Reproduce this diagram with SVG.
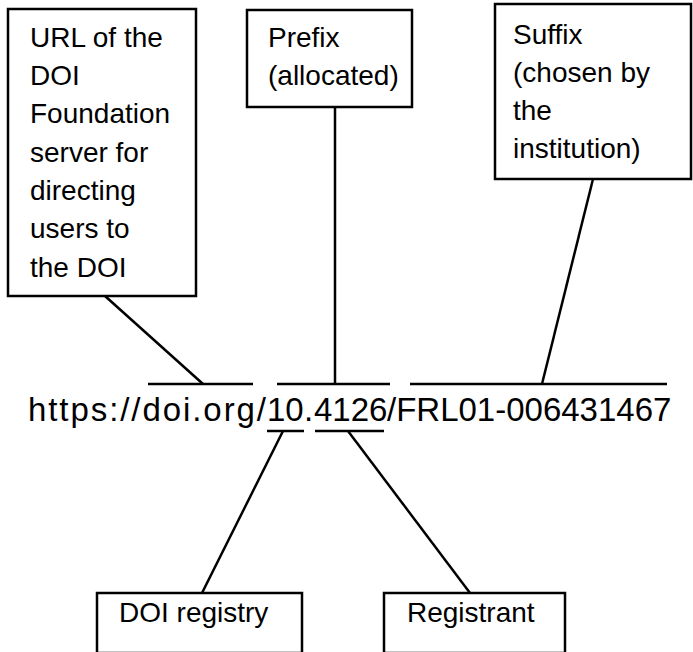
<svg xmlns="http://www.w3.org/2000/svg" width="693" height="652" viewBox="0 0 693 652">
<style>
.box{fill:#fff;stroke:#000;stroke-width:2.5}
.lbl{font-family:"Liberation Sans",Arial,sans-serif;font-size:28px;fill:#000}
.url{font-family:"Liberation Sans",Arial,sans-serif;font-size:33px;fill:#000}
.ln{stroke:#000;stroke-width:2.5;fill:none}
</style>
<rect width="693" height="652" fill="#fff"/>
<g id="connectors">
<line class="ln" x1="105" y1="296" x2="203" y2="384"/>
<line class="ln" x1="335" y1="107" x2="335" y2="384"/>
<line class="ln" x1="593" y1="179" x2="542" y2="384"/>
<line class="ln" x1="148" y1="384" x2="253" y2="384"/>
<line class="ln" x1="277" y1="384" x2="390" y2="384"/>
<line class="ln" x1="410" y1="384" x2="667" y2="384"/>
<line class="ln" x1="267" y1="431" x2="304" y2="431"/>
<line class="ln" x1="315" y1="431" x2="384" y2="431"/>
<line class="ln" x1="283" y1="431" x2="202" y2="593"/>
<line class="ln" x1="348" y1="431" x2="470" y2="593"/>
</g>
<g id="url">
<text class="url" y="421"><tspan x="28" textLength="238" lengthAdjust="spacing">https://doi.org/</tspan><tspan x="267">10</tspan><tspan x="304">.</tspan><tspan x="314">4126</tspan><tspan x="387">/FRL01-006431467</tspan></text>
</g>
<g id="node-url">
<rect class="box" x="8" y="9" width="188" height="287"/>
<text class="lbl" x="30" y="47">URL of the</text>
<text class="lbl" x="30" y="85">DOI</text>
<text class="lbl" x="30" y="123">Foundation</text>
<text class="lbl" x="30" y="162">server for</text>
<text class="lbl" x="30" y="200">directing</text>
<text class="lbl" x="30" y="238">users to</text>
<text class="lbl" x="30" y="277">the DOI</text>
</g>
<g id="node-prefix">
<rect class="box" x="247" y="10" width="165" height="97"/>
<text class="lbl" x="268" y="47">Prefix</text>
<text class="lbl" x="268" y="85">(allocated)</text>
</g>
<g id="node-suffix">
<rect class="box" x="495" y="4" width="196" height="175"/>
<text class="lbl" x="513" y="44">Suffix</text>
<text class="lbl" x="513" y="82">(chosen by</text>
<text class="lbl" x="513" y="120">the</text>
<text class="lbl" x="513" y="158">institution)</text>
</g>
<g id="node-registry">
<rect class="box" x="97" y="593" width="205" height="60"/>
<text class="lbl" x="119" y="622">DOI registry</text>
</g>
<g id="node-registrant">
<rect class="box" x="384" y="593" width="181" height="60"/>
<text class="lbl" x="407" y="622">Registrant</text>
</g>
</svg>
